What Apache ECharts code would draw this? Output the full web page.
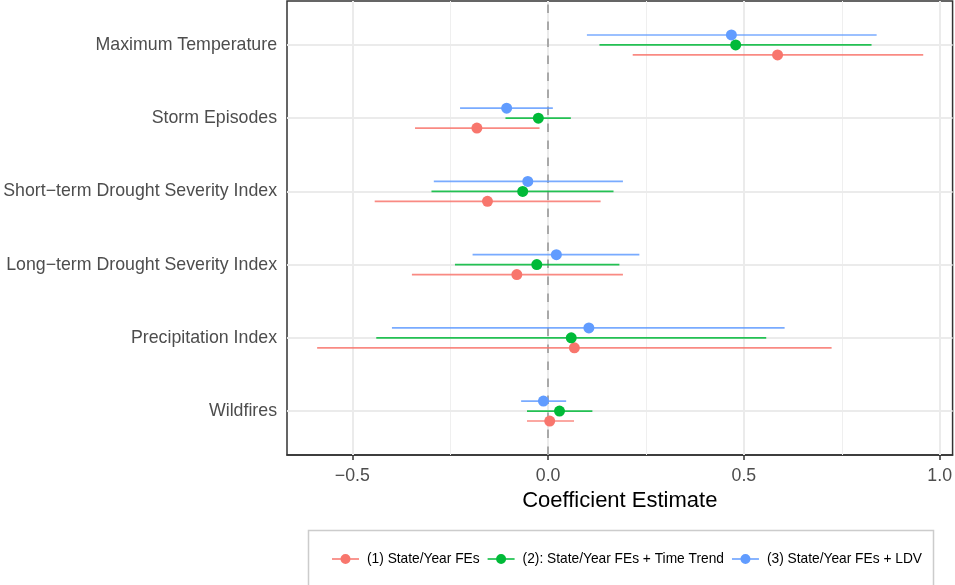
<!DOCTYPE html>
<html><head><meta charset="utf-8">
<script src="https://cdn.jsdelivr.net/npm/echarts@6/dist/echarts.min.js"></script>
<style>html,body{margin:0;padding:0;background:#fff}#c{width:955px;height:585px}</style>
</head><body><div id="c"></div>
<script>
// categories, bottom to top
const categories = ['Wildfires','Precipitation Index','Long\u2212term Drought Severity Index','Short\u2212term Drought Severity Index','Storm Episodes','Maximum Temperature'];
const seriesNames = ['(1) State/Year FEs','(2): State/Year FEs + Time Trend','(3) State/Year FEs + LDV'];
const colors = ['#F8766D','#00BA38','#619CFF'];
// estimates, lower and upper bounds per model (same order as categories)
const est1 = [0.004, 0.067, -0.080, -0.155, -0.182, 0.586];
const lo1  = [-0.054, -0.590, -0.348, -0.443, -0.340, 0.216];
const hi1  = [0.066, 0.724, 0.191, 0.134, -0.022, 0.958];
const est2 = [0.029, 0.059, -0.029, -0.065, -0.025, 0.479];
const lo2  = [-0.054, -0.439, -0.238, -0.298, -0.109, 0.131];
const hi2  = [0.113, 0.557, 0.182, 0.167, 0.058, 0.826];
const est3 = [-0.012, 0.104, 0.021, -0.052, -0.106, 0.468];
const lo3  = [-0.069, -0.399, -0.193, -0.292, -0.225, 0.099];
const hi3  = [0.046, 0.604, 0.233, 0.191, 0.012, 0.839];
const xTicks = [-0.5, 0, 0.5, 1.0];
const xMinor = [-0.25, 0.25, 0.75];

const models = [[est1,lo1,hi1],[est2,lo2,hi2],[est3,lo3,hi3]];
const dodge = [-0.136, 0, 0.136];
const yPos = categories.map((c,i)=>i+1);

const series = [];
// grid lines
series.push({
  type:'scatter', data:[], silent:true, z:1,
  markLine:{silent:true, symbol:'none', animation:false, label:{show:false}, z:1,
    data:[
      ...xMinor.map(v=>({xAxis:v, lineStyle:{color:'#EFEFEF', width:1, type:'solid'}})),
      ...xTicks.map(v=>({xAxis:v, lineStyle:{color:'#EBEBEB', width:2, type:'solid'}})),
      ...yPos.map(v=>({yAxis:v, lineStyle:{color:'#EBEBEB', width:2, type:'solid'}}))
    ]}
});
series.push({
  type:'scatter', data:[], silent:true, z:2,
  markLine:{silent:true, symbol:'none', animation:false, label:{show:false}, z:2,
    data:[{xAxis:0, lineStyle:{color:'#999999', width:1.6, type:[8.5,8.5]}}]}
});
models.forEach((m,k)=>{
  const [e,lo,hi] = m;
  series.push({
    name: seriesNames[k], type:'custom', z:3,
    data: yPos.map((y,i)=>[lo[i], hi[i], y+dodge[k]]),
    renderItem:(params, api)=>{
      const a = api.coord([api.value(0), api.value(2)]);
      const b = api.coord([api.value(1), api.value(2)]);
      return {type:'line', shape:{x1:a[0], y1:a[1], x2:b[0], y2:b[1]},
        style:{stroke:colors[k], lineWidth:1.7, opacity:0.85}};
    },
    encode:{x:[0,1], y:2},
    itemStyle:{color:colors[k]}
  });
  series.push({
    name: seriesNames[k], type:'scatter', z:4,
    symbol:'circle', symbolSize:11,
    itemStyle:{color:colors[k], opacity:1},
    data: yPos.map((y,i)=>[e[i], y+dodge[k]])
  });
});

const chart = echarts.init(document.getElementById('c'));
const fmt = v => (v<0 ? '\u2212' + Math.abs(v).toFixed(1) : v.toFixed(1));
chart.setOption({
  animation:false,
  textStyle:{fontFamily:'Liberation Sans, Arial, sans-serif'},
  grid:{left:287, right:1, top:1, bottom:130, show:true, borderColor:'#333333', borderWidth:1.5, backgroundColor:'transparent'},
  xAxis:{type:'value', min:-0.667, max:1.033,
    axisLine:{show:true, lineStyle:{color:'#333333', width:1.5}}, splitLine:{show:false},
    axisTick:{show:true, length:5, lineStyle:{color:'#333333', width:1.5}, customValues:xTicks},
    axisLabel:{customValues:xTicks, formatter:fmt, color:'#4D4D4D', fontSize:17.75, margin:12},
    name:'Coefficient Estimate', nameLocation:'middle', nameGap:32,
    nameTextStyle:{color:'#000', fontSize:22}
  },
  yAxis:{type:'value', min:0.4, max:6.6,
    axisLine:{show:true, lineStyle:{color:'#333333', width:1.5}}, splitLine:{show:false},
    axisTick:{show:true, length:5, lineStyle:{color:'#333333', width:1.5}, customValues:yPos},
    axisLabel:{customValues:yPos, formatter:v=>categories[Math.round(v)-1], color:'#4D4D4D', fontSize:17.75, margin:10, padding:[3,0,0,0]}
  },
  legend:{left:327, top:547, itemGap:8, itemWidth:27, itemHeight:10,
    textStyle:{color:'#000', fontSize:13.75, padding:[0,0,0,3]},
    data: seriesNames.map((n,k)=>({name:n, icon:'path://M0,4.2 L27,4.2 L27,5.8 L0,5.8 Z M13.5,0 A5,5 0 1 1 13.49,0 Z', itemStyle:{color:colors[k]}}))
  },
  graphic:[{type:'rect', shape:{x:308.5, y:530.5, width:625, height:70}, style:{fill:'none', stroke:'#CCCCCC', lineWidth:1.5}, silent:true}],
  series
});
</script></body></html>
